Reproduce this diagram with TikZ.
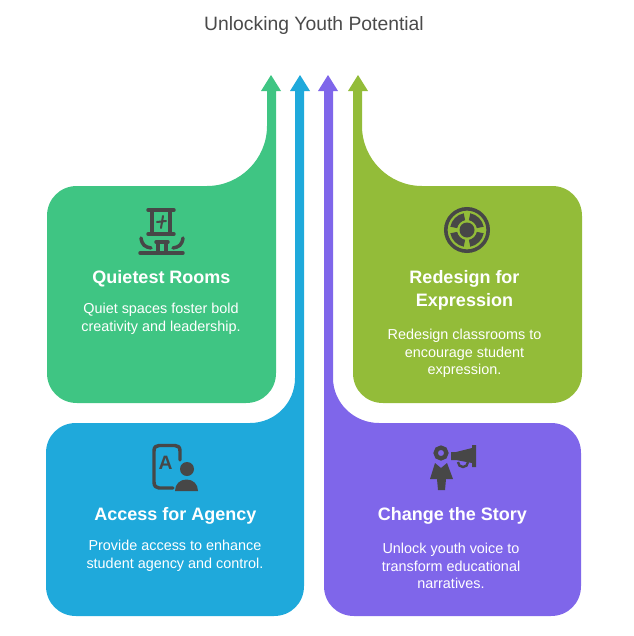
\documentclass[tikz,border=0pt]{standalone}
\usepackage{fontspec}
\usepackage{xcolor}
\setmainfont{Liberation Sans}
\definecolor{quietgreen}{HTML}{3FC583}
\definecolor{accessblue}{HTML}{1FA9DB}
\definecolor{storypurple}{HTML}{7F66EA}
\definecolor{redesignolive}{HTML}{93BC39}
\definecolor{icongray}{HTML}{474747}
\definecolor{titlegray}{HTML}{4A4A4A}
\begin{document}
\begin{tikzpicture}[x = 0.75pt,
                y = -0.75pt,
                titletext/.style = {text=titlegray, font=\fontsize{14.5}{17}\selectfont},
                headtext/.style  = {text=white, align=center, font=\fontsize{13.5}{17.2}\selectfont\bfseries},
                bodytext/.style  = {text=white, align=center, font=\fontsize{10.8}{13.1}\selectfont},
                iconline/.style  = {draw=icongray, line width=2.6pt, line cap=round, line join=round},
                iconfill/.style  = {fill=icongray}]
            \useasboundingbox (0, 0) rectangle (633, 636);
            \fill[quietgreen] (77, 403) .. controls (60, 403) and (47, 390) .. (47, 373) -- (47, 216) .. controls (47, 199) and (60, 186) .. (77, 186) -- (207, 186) .. controls (240, 186) and (267, 159) .. (267, 126) -- (267, 91) -- (261, 91) -- (271, 75) -- (281, 91) -- (276, 91) -- (276, 373) .. controls (276, 390) and (263, 403) .. (246, 403) -- cycle;
            \fill[redesignolive] (552, 403) .. controls (569, 403) and (582, 390) .. (582, 373) -- (582, 216) .. controls (582, 199) and (569, 186) .. (552, 186) -- (422, 186) .. controls (389, 186) and (362, 159) .. (362, 126) -- (362, 91) -- (368, 91) -- (358, 75) -- (348, 91) -- (353, 91) -- (353, 373) .. controls (353, 390) and (366, 403) .. (383, 403) -- cycle;
            \fill[accessblue] (76, 616) .. controls (59, 616) and (46, 603) .. (46, 586) -- (46, 453) .. controls (46, 436) and (59, 423) .. (76, 423) -- (250, 423) .. controls (275, 423) and (295, 403) .. (295, 378) -- (295, 91) -- (290, 91) -- (300, 75) -- (310, 91) -- (304, 91) -- (304, 586) .. controls (304, 603) and (291, 616) .. (274, 616) -- cycle;
            \fill[storypurple] (551, 616) .. controls (568, 616) and (581, 603) .. (581, 586) -- (581, 453) .. controls (581, 436) and (568, 423) .. (551, 423) -- (379, 423) .. controls (354, 423) and (333, 403) .. (333, 378) -- (333, 91) -- (338, 91) -- (328, 75) -- (318, 91) -- (324, 91) -- (324, 586) .. controls (324, 603) and (337, 616) .. (354, 616) -- cycle;
            \node[titletext] (title) at (314, 25) {Unlocking Youth Potential};
            \node[headtext] (quiethead) at (161.5, 279) {Quietest Rooms};
            \node[bodytext] (quietbody) at (161, 319) {Quiet spaces foster bold\\creativity and leadership.};
            \node[headtext] (redesignhead) at (464.5, 290.5) {Redesign for\\Expression};
            \node[bodytext] (redesignbody) at (464.5, 353.5) {Redesign classrooms to\\encourage student\\expression.};
            \node[headtext] (accesshead) at (175.5, 516) {Access for Agency};
            \node[bodytext] (accessbody) at (175, 556) {Provide access to enhance\\student agency and control.};
            \node[headtext] (storyhead) at (452.5, 516) {Change the Story};
            \node[bodytext] (storybody) at (451, 566) {Unlock youth voice to\\transform educational\\narratives.};
            \draw[iconline] (148, 210) -- (174, 210);
            \draw[iconline] (148, 234) -- (174, 234);
            \draw[iconline] (152, 210) -- (152, 234);
            \draw[iconline] (170, 210) -- (170, 234);
            \draw[icongray, line width=1.5pt, line cap=round] (163, 216) -- (161, 228) (157, 222) -- (166, 221);
            \draw[iconline] (140, 253) -- (183, 253);
            \draw[iconline] (156, 242) -- (168, 242);
            \draw[iconline] (158, 242) -- (158, 252);
            \draw[iconline] (166, 242) -- (166, 252);
            \draw[iconline] (141, 238) .. controls (142, 245) and (145, 247) .. (151, 248);
            \draw[iconline] (183, 238) .. controls (182, 245) and (179, 247) .. (173, 248);
            \draw[icongray, line width=2.7pt] (467, 230) circle (21.2);
            \fill[iconfill] (467, 230) circle (7.5);
            \foreach \ang in {0, 90, 180, 270} {
                \fill[iconfill] ({467 + 17 * cos(\ang + 11)}, {230 + 17 * sin(\ang + 11)}) arc[start angle=\ang + 11, end angle=\ang + 79, radius=17] -- ({467 + 10 * cos(\ang + 79)}, {230 + 10 * sin(\ang + 79)}) arc[start angle=\ang + 79, end angle=\ang + 11, radius=10] -- cycle;
            }
            \draw[iconline] (180, 460) -- (180, 451) .. controls (180, 447) and (178, 445.5) .. (175, 445.5) -- (159, 445.5) .. controls (156, 445.5) and (154, 447) .. (154, 451) -- (154, 482) .. controls (154, 486) and (156, 488) .. (159, 488) -- (173, 488);
            \node[text=icongray, font=\fontsize{14.5}{14.5}\selectfont\bfseries, inner sep=0pt] (accessletter) at (165.5, 463) {A};
            \fill[iconfill] (187, 469) circle (7);
            \fill[iconfill] (175, 491) .. controls (175, 484) and (180, 479.5) .. (186.5, 479.5) .. controls (193, 479.5) and (198, 484) .. (198, 491) -- cycle;
            \draw[icongray, line width=3.2pt] (441, 453) circle (5.4);
            \fill[iconfill] (435, 463) -- (441, 468) -- (447, 463) -- (453, 479) -- (446, 479) -- (445, 490) -- (438, 490) -- (437, 479) -- (430, 479) -- cycle;
            \fill[iconfill] (451, 452) -- (456, 452) -- (472, 448) -- (472, 445) -- (476, 445) -- (476, 467) -- (472, 467) -- (472, 463) -- (456, 460) -- (451, 460) -- cycle;
            \draw[icongray, line width=1.8pt] (458, 462) arc[start angle=180, end angle=0, radius=5];
\end{tikzpicture}
\end{document}
